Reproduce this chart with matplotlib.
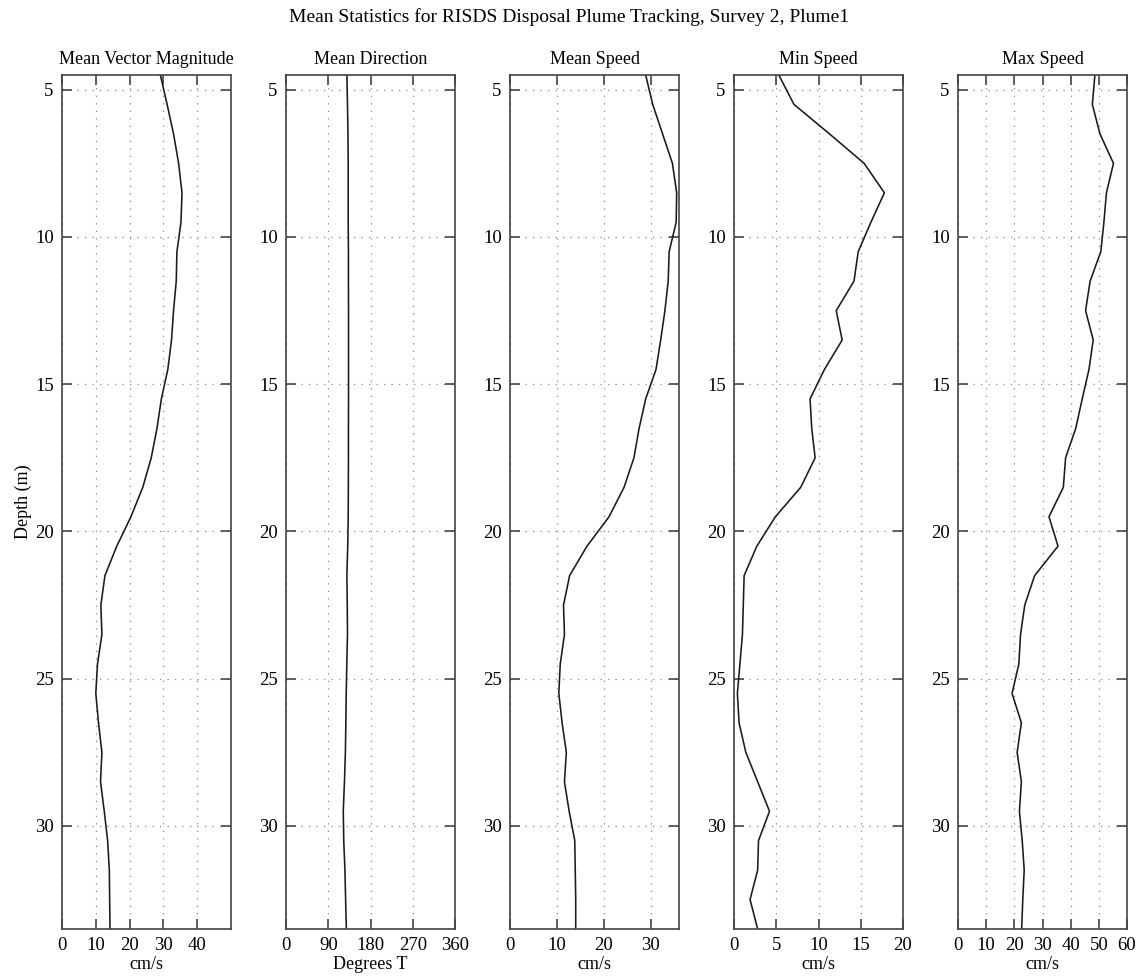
import matplotlib
matplotlib.use("Agg")
import matplotlib.pyplot as plt
import numpy as np

plt.rcParams['font.family'] = ['Liberation Serif', 'DejaVu Serif']

# depth bins (m), one value per bin in each profile
depth = np.arange(4.5, 34.0, 1.0)

mean_vec_mag = [29.1, 31.1, 33.0, 34.5, 35.5, 35.2, 34.0, 33.8, 33.0, 32.4,
                31.3, 29.4, 28.1, 26.4, 23.9, 20.4, 16.2, 12.7, 11.5, 11.8,
                10.5, 10.0, 10.8, 11.8, 11.4, 12.5, 13.5, 14.0, 14.1, 14.2]
mean_dir = [129.7, 131.0, 132.0, 132.5, 132.5, 132.5, 133.0, 133.0, 133.2, 133.2,
            133.2, 133.2, 133.0, 133.0, 132.8, 132.5, 131.5, 129.7, 130.5, 131.0,
            129.5, 128.3, 127.5, 126.5, 124.5, 122.0, 123.0, 125.5, 127.0, 128.6]
mean_speed = [28.9, 30.4, 32.5, 34.6, 35.5, 35.4, 33.9, 33.7, 33.0, 32.1,
              31.1, 28.9, 27.5, 26.4, 24.3, 21.1, 16.4, 12.7, 11.4, 11.6,
              10.7, 10.4, 11.1, 12.0, 11.6, 12.6, 13.8, 13.9, 14.0, 14.0]
min_speed = [5.3, 7.1, 11.3, 15.4, 17.8, 16.2, 14.7, 14.2, 12.1, 12.8,
             10.7, 9.0, 9.2, 9.6, 7.9, 4.9, 2.7, 1.2, 1.1, 1.0,
             0.7, 0.4, 0.6, 1.4, 2.8, 4.2, 2.9, 2.8, 1.9, 2.8]
max_speed = [48.6, 47.7, 50.4, 55.2, 52.7, 51.8, 50.7, 46.9, 45.3, 48.0,
             46.5, 44.1, 41.8, 38.2, 37.4, 32.3, 35.5, 27.2, 23.7, 22.2,
             21.6, 19.2, 22.5, 21.0, 22.5, 21.8, 22.8, 23.5, 23.0, 22.6]

titles = ['Mean Vector Magnitude', 'Mean Direction', 'Mean Speed', 'Min Speed', 'Max Speed']
xlabels = ['cm/s', 'Degrees T', 'cm/s', 'cm/s', 'cm/s']
profiles = [mean_vec_mag, mean_dir, mean_speed, min_speed, max_speed]
xlims = [(0, 50), (0, 360), (0, 36), (0, 20), (0, 60)]
xticks = [[0, 10, 20, 30, 40], [0, 90, 180, 270, 360], [0, 10, 20, 30],
          [0, 5, 10, 15, 20], [0, 10, 20, 30, 40, 50, 60]]
yticks = [5, 10, 15, 20, 25, 30]

W, H = 1138, 976
fig = plt.figure(figsize=(W / 100, H / 100), dpi=100)
lefts = [62, 286, 510, 734, 958]
ax_w, ax_top, ax_bot = 169, 75, 929

spine_c = '#444444'
for i in range(5):
    ax = fig.add_axes([lefts[i] / W, (H - ax_bot) / H, ax_w / W, (ax_bot - ax_top) / H])
    ax.plot(profiles[i], depth, color='#1a1a1a', lw=1.15)
    ax.set_xlim(*xlims[i])
    ax.set_ylim(33.5, 4.5)
    ax.set_xticks(xticks[i])
    ax.set_yticks(yticks)
    ax.grid(True, linestyle=(0, (1, 5)), color='#8a8a8a', lw=0.9)
    ax.tick_params(direction='in', length=7, width=1.2, color=spine_c,
                   top=True, right=True, labelsize=13.5, pad=6)
    for s in ax.spines.values():
        s.set_linewidth(1.2)
        s.set_color(spine_c)
    ax.set_title(titles[i], fontsize=13, pad=8)
    ax.set_xlabel(xlabels[i], fontsize=13, labelpad=1)
    if i == 0:
        ax.set_ylabel('Depth (m)', fontsize=13, labelpad=2)

fig.suptitle('Mean Statistics for RISDS Disposal Plume Tracking, Survey 2, Plume1',
             fontsize=14, y=1 - 17 / H, va='center')

fig.savefig('out.png', dpi=100)
